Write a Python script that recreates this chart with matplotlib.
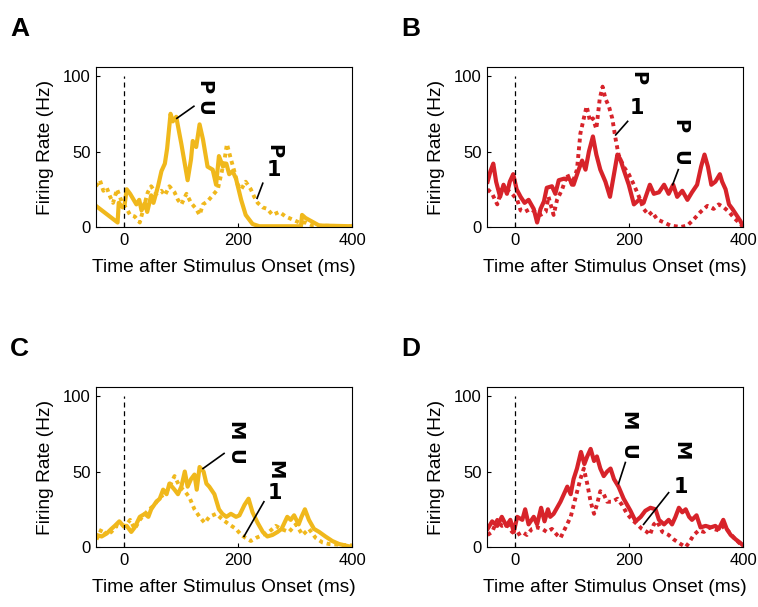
import matplotlib

matplotlib.use("Agg")

import matplotlib.pyplot as plt  # noqa: E402

plt.rcParams.update(
    {
        "font.family": ["Liberation Sans", "DejaVu Sans"],
        "axes.linewidth": 0.8,
        "xtick.direction": "in",
        "ytick.direction": "in",
        "xtick.major.size": 3,
        "ytick.major.size": 3,
    }
)

GOLD = "#F0B81C"
RED = "#D7232A"

# Panel A: P stimulus, yellow
A_SOLID_T = [-50, -12, -10, -3, 0, 4, 10, 21, 26, 30, 36, 40, 47, 51, 59, 65, 71, 75, 81, 85,
             91, 100, 111, 117, 120, 126, 132, 138, 146, 155, 161, 166, 173, 179, 184, 190, 196,
             205, 213, 225, 237, 310, 312, 318, 342, 400]
A_SOLID_HZ = [14, 3, 16, 13, 14, 25, 22, 15, 18, 11, 16, 10, 21, 16, 27, 37, 42, 52, 75, 70,
              73, 55, 31, 45, 57, 53, 68, 58, 40, 38, 28, 47, 40, 42, 35, 37, 32,
              18, 8, 2, 0.5, 0.5, 8, 6, 1, 0.5]
A_DOT_T = [-50, -43, -37, -31, -25, -20, -13, -5, 4, 10, 18, 27, 36, 41, 47, 56, 65, 71, 79, 88,
           94, 100, 109, 117, 126, 132, 138, 146, 155, 164, 170, 176, 180, 187, 193, 199, 205,
           213, 222, 228, 234, 243, 251, 260, 272, 283, 295, 307, 318, 330, 400]
A_DOT_HZ = [27, 31, 24, 26, 20, 16, 25, 17, 12, 8, 7, 3, 16, 23, 27, 22, 24, 21, 27, 23,
            18, 15, 22, 16, 12, 8, 15, 17, 21, 25, 35, 45, 55, 45, 37, 28, 25,
            30, 25, 20, 16, 13, 12, 8, 10, 7, 5, 3, 3, 1, 0.5]

# Panel B: P stimulus, red
B_SOLID_T = [-49, -44, -39, -34, -27, -21, -15, -10, -4, 2, 9, 16, 23, 32, 38, 44, 50, 55, 64,
             70, 76, 85, 94, 102, 111, 117, 123, 129, 136, 142, 149, 158, 166, 173, 179, 184,
             190, 199, 208, 217, 225, 236, 243, 252, 261, 269, 277, 284, 293, 302, 310, 319,
             326, 332, 338, 344, 351, 359, 363, 369, 375, 381, 388, 395, 400]
B_SOLID_HZ = [30, 37, 42, 30, 20, 28, 22, 30, 35, 25, 20, 16, 18, 12, 3, 12, 17, 26, 27,
              22, 31, 32, 32, 28, 38, 44, 38, 50, 60, 48, 38, 30, 20, 35, 48, 45,
              38, 28, 15, 18, 16, 28, 22, 23, 28, 22, 28, 20, 24, 18, 23, 28,
              40, 48, 40, 28, 30, 35, 30, 25, 15, 12, 8, 4, 0]
B_DOT_T = [-49, -41, -32, -24, -15, -6, 3, 9, 16, 26, 35, 44, 53, 58, 67, 73, 82, 91, 99, 108,
           114, 120, 125, 131, 136, 142, 148, 153, 158, 164, 170, 176, 181, 190, 199, 208, 217,
           225, 234, 240, 249, 261, 272, 290, 302, 313, 325, 337, 348, 357, 366, 375, 384, 395,
           400]
B_DOT_HZ = [25, 22, 15, 25, 25, 22, 18, 11, 10, 12, 10, 8, 10, 20, 8, 18, 25, 35, 28, 38,
            62, 72, 80, 70, 72, 65, 85, 93, 85, 80, 72, 58, 48, 40, 35, 28, 20,
            12, 8, 10, 5, 3, 1, 0, 1, 5, 10, 14, 12, 15, 13, 10, 6, 2,
            0]

# Panel C: M stimulus, yellow
C_SOLID_T = [-49, -40, -31, -23, -17, -9, -2, 4, 12, 18, 27, 36, 42, 47, 56, 62, 68, 74, 79, 88,
             94, 100, 106, 111, 117, 123, 127, 132, 139, 144, 149, 158, 166, 172, 179, 187, 196,
             202, 211, 218, 225, 234, 243, 251, 260, 269, 276, 286, 292, 298, 306, 311, 317,
             324, 333, 342, 353, 365, 377, 388, 400]
C_SOLID_HZ = [8, 7, 9, 12, 14, 17, 14, 14, 10, 13, 20, 22, 20, 25, 30, 32, 38, 35, 42, 38,
              35, 40, 50, 40, 45, 48, 38, 53, 50, 42, 40, 35, 25, 22, 20, 22, 20,
              21, 28, 32, 23, 16, 10, 7, 8, 10, 12, 20, 18, 21, 15, 20, 25,
              18, 12, 10, 7, 4, 2, 1, 0]
C_DOT_T = [-49, -40, -31, -23, -14, -5, 4, 10, 18, 27, 36, 44, 53, 62, 71, 79, 88, 97, 106, 114,
           123, 132, 141, 149, 161, 173, 184, 196, 205, 213, 222, 231, 243, 254, 266, 275, 289,
           301, 313, 324, 336, 348, 359, 400]
C_DOT_HZ = [5, 12, 8, 10, 14, 13, 15, 18, 12, 18, 22, 25, 28, 33, 35, 40, 47, 40, 37, 33,
            25, 20, 16, 20, 22, 18, 15, 12, 8, 6, 4, 6, 8, 10, 14, 12, 10,
            15, 8, 12, 6, 3, 2, 1]

# Panel D: M stimulus, red
D_SOLID_T = [-49, -41, -32, -24, -16, -9, -3, 3, 12, 17, 23, 32, 38, 45, 51, 57, 61, 67, 73, 79,
             85, 91, 97, 102, 108, 115, 121, 126, 132, 138, 143, 149, 155, 161, 167, 173, 181,
             190, 196, 202, 211, 220, 228, 237, 246, 252, 261, 269, 275, 281, 287, 293, 299,
             305, 310, 318, 325, 334, 343, 351, 357, 365, 371, 378, 387, 394, 400]
D_SOLID_HZ = [12, 17, 14, 20, 14, 18, 10, 20, 18, 25, 15, 20, 15, 26, 17, 25, 20, 22, 26, 30,
              35, 40, 35, 45, 52, 63, 55, 60, 65, 57, 60, 52, 47, 50, 52, 45, 40,
              32, 28, 24, 17, 20, 24, 26, 25, 18, 15, 18, 15, 20, 26, 23, 25,
              20, 18, 21, 13, 14, 13, 14, 12, 18, 12, 8, 5, 3, 1]
D_DOT_T = [-49, -41, -32, -24, -15, -6, 3, 12, 20, 29, 38, 47, 55, 64, 73, 79, 88, 97, 105, 114,
           120, 126, 132, 138, 143, 149, 155, 161, 170, 179, 187, 196, 205, 214, 222, 231, 236,
           243, 249, 258, 269, 278, 290, 299, 305, 313, 322, 331, 340, 348, 357, 366, 375, 384,
           395, 400]
D_DOT_HZ = [8, 10, 18, 14, 15, 10, 8, 10, 8, 12, 13, 12, 10, 12, 8, 6, 13, 20, 32, 45,
            52, 42, 30, 22, 28, 37, 35, 30, 30, 32, 28, 22, 18, 15, 12, 10, 8,
            15, 17, 10, 8, 5, 2, 0, 3, 8, 11, 10, 13, 12, 11, 14, 10, 6,
            2, 1]

# Stimulus tags: (top glyph, lower glyph, glyph x, top y, lower y, pointer line)
# "U" is drawn turned on its side, "1" is drawn upright.
A_TAGS = [("P", "U", 140, 93, 79, (92, 72), (122, 80)),
          ("P", "1", 263, 50, 38, (233, 19), (243, 29))]
B_TAGS = [("P", "1", 214, 99, 79, (176, 61), (197, 70)),
          ("P", "U", 288, 67, 46, (276, 28), (286, 38))]
C_TAGS = [("M", "U", 193, 77, 60, (138, 52), (175, 62)),
          ("M", "1", 264, 51, 36, (210, 7), (245, 30))]
D_TAGS = [("M", "U", 197, 84, 63, (181, 42), (193, 56)),
          ("M", "1", 290, 64, 40, (225, 15), (269, 36))]

PANELS = [
    ("A", 0.1266, 0.626, GOLD, A_SOLID_T, A_SOLID_HZ, A_DOT_T, A_DOT_HZ, A_TAGS),
    ("B", 0.6425, 0.626, RED, B_SOLID_T, B_SOLID_HZ, B_DOT_T, B_DOT_HZ, B_TAGS),
    ("C", 0.1266, 0.0988, GOLD, C_SOLID_T, C_SOLID_HZ, C_DOT_T, C_DOT_HZ, C_TAGS),
    ("D", 0.6425, 0.0988, RED, D_SOLID_T, D_SOLID_HZ, D_DOT_T, D_DOT_HZ, D_TAGS),
]

fig = plt.figure(figsize=(7.58, 6.07), dpi=100)

for letter, left, bottom, color, st, shz, dt, dhz, tags in PANELS:
    ax = fig.add_axes([left, bottom, 0.338, 0.2636])
    ax.plot(dt, dhz, color=color, lw=2.8, linestyle=(0, (1, 1)), dash_capstyle="butt")
    ax.plot(st, shz, color=color, lw=3.0, solid_joinstyle="round")
    ax.vlines(0, 0, 100, colors="black", linestyles=(0, (4, 3)), lw=0.9)

    for top, low, gx, ytop, ylow, p0, p1 in tags:
        ax.text(gx, ytop, top, rotation=-90, ha="center", va="center",
                fontsize=14, fontweight="bold", family="DejaVu Sans")
        ax.text(gx, ylow, low, rotation=0 if low == "1" else -90,
                ha="center", va="center",
                fontsize=15 if low == "1" else 14, fontweight="bold", family="DejaVu Sans")
        ax.plot([p0[0], p1[0]], [p0[1], p1[1]], color="black", lw=1.2)

    ax.set_xlim(-50, 400)
    ax.set_ylim(0, 106)
    ax.set_xticks([0, 200, 400])
    ax.set_yticks([0, 50, 100])
    ax.tick_params(labelsize=12, pad=4)
    ax.set_xlabel("Time after Stimulus Onset (ms)", fontsize=13.75, labelpad=8)
    ax.set_ylabel("Firing Rate (Hz)", fontsize=13.75, labelpad=6)

    fig.text(left - 0.113, bottom + 0.327, letter, fontsize=19, fontweight="bold",
             ha="left", va="center")

fig.savefig("out.png", dpi=100)
